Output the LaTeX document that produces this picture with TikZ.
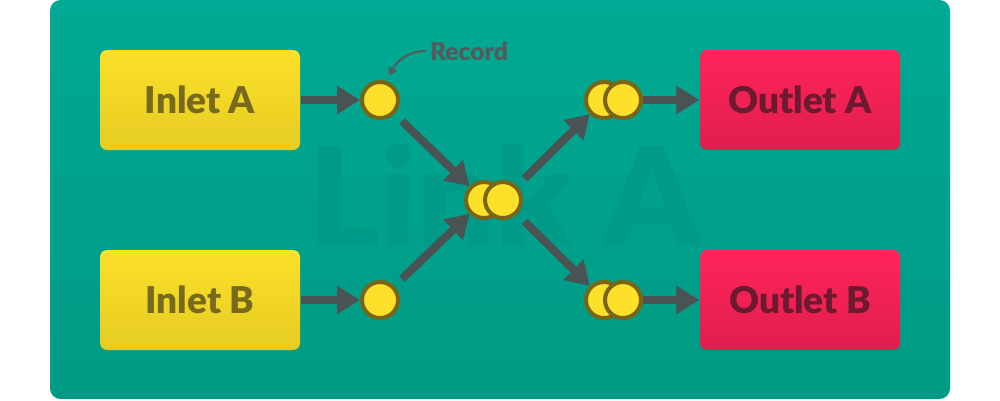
\documentclass[tikz,border=0pt]{standalone}
\usepackage{fontspec}
\setmainfont{Lato}[BoldFont={Lato Black}]
\usetikzlibrary{arrows.meta,positioning}
\definecolor{sea}{HTML}{00A993}
\definecolor{seadark}{HTML}{009A84}
\definecolor{mark}{HTML}{009B88}
\definecolor{sun}{HTML}{FBE12A}
\definecolor{sundark}{HTML}{E6CB22}
\definecolor{olive}{HTML}{776A1C}
\definecolor{rose}{HTML}{FF2459}
\definecolor{rosedark}{HTML}{E01E4E}
\definecolor{wine}{HTML}{6B1A30}
\definecolor{slate}{HTML}{4B5253}
\definecolor{ring}{HTML}{7A6516}
\definecolor{knobfill}{HTML}{FDE02A}
\definecolor{note}{HTML}{555B5B}
\newcommand{\twin}[3]{\node[knob] (#1a) at (#2,#3) {};\node[knob] (#1b) at (#2+.19,#3) {};}

\begin{document}
\begin{tikzpicture}[box/.style={minimum width=2cm,minimum height=1cm,rounded corners=2pt,inner sep=0pt,font=\bfseries\fontsize{10.5}{12}\selectfont},
inlet/.style={box,top color=sun,bottom color=sundark,text=olive},
outlet/.style={box,top color=rose,bottom color=rosedark,text=wine},
knob/.style={circle,draw=ring,fill=knobfill,line width=.04cm,minimum size=.36cm,inner sep=0pt},
flow/.style={slate,line width=.08cm,-{Triangle[length=.23cm,width=.27cm]}}]
\useasboundingbox (0,0) rectangle (10,4);
\shade[top color=sea,bottom color=seadark,rounded corners=3pt] (.5,.01) rectangle (9.5,4);
\node[text=mark,font=\bfseries\fontsize{39}{40}\selectfont] (wm) at (5.05,2.05) {Link A};
\node[inlet] (ia) at (2,3) {Inlet A};\node[inlet] (ib) at (2,1) {Inlet B};
\node[outlet] (oa) at (8,3) {Outlet A};\node[outlet] (ob) at (8,1) {Outlet B};
\node[knob] (ka) at (3.8,3) {};\node[knob] (kb) at (3.8,1) {};
\twin{hub}{4.84}{2}\twin{pa}{6.04}{3}\twin{pb}{6.04}{1}
\draw[flow] (ia) -- (ka);\draw[flow] (ib) -- (kb);
\draw[flow,shorten <=3pt] (ka) -- (huba);\draw[flow,shorten <=3pt] (kb) -- (huba);
\draw[flow,shorten <=3pt] (hubb) -- (paa);\draw[flow,shorten <=3pt] (hubb) -- (pba);
\draw[flow] (pab) -- (oa);\draw[flow] (pbb) -- (ob);
\node[text=note,inner sep=1pt,font=\bfseries\fontsize{7}{8}\selectfont] (rec) at (4.69,3.49) {Record};
\draw[note,line width=.02cm,shorten >=.06cm,-{Triangle[length=.08cm,width=.09cm]}] (rec.west) to[out=180,in=65] (ka.70);
\end{tikzpicture}
\end{document}
